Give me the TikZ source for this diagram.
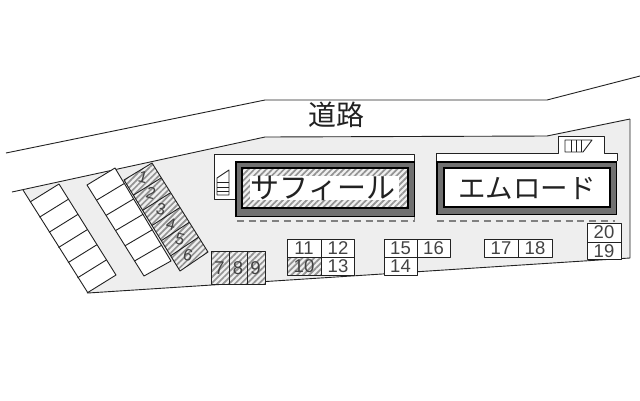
\documentclass[tikz,border=0pt]{standalone}
\usepackage{fontspec}
\setmainfont{Liberation Sans}
\newfontfamily\jpfont{Noto Sans CJK JP}
\usetikzlibrary{patterns.meta}
\definecolor{sitegray}{HTML}{EEEEEE}
\definecolor{ink}{HTML}{222222}
\definecolor{band}{HTML}{707070}
\tikzset{
  x=1pt,y=-1pt,
  line/.style={draw=ink,line width=0.9pt,line join=round},
  hatch/.style={pattern={Lines[angle=45,distance=4.2pt,line width=1.7pt]},pattern color=gray!85},
  white cell/.style={line,fill=white},
  num/.style={font=\fontsize{18.5}{18.5}\selectfont,text=ink!85,inner sep=0pt},
  slantnum/.style={font=\fontsize{16.5}{16.5}\selectfont,text=ink!85,inner sep=0pt,rotate=-15},
  bigtext/.style={font=\jpfont\fontsize{29}{29}\selectfont,text=ink,inner sep=0pt},
  dashline/.style={draw=gray,line width=2pt,dash pattern=on 7pt off 4.7pt},
}
\begin{document}
\begin{tikzpicture}
\useasboundingbox (0,0) rectangle (640,400);
\fill[white] (0,0) rectangle (640,400);
% site
\fill[sitegray] (23,190) -- (265,137) -- (547,136) -- (630,119) -- (630,258) -- (88,293) -- cycle;
\draw[line] (6,153) -- (265,100) -- (547,100) -- (640,76);
% left parking
\fill[white] (59,184) -- (116,275) -- (87,293) -- (30,202) -- cycle;
\draw[line] (59,184) -- (116,275) -- (87,293);
\foreach \i in {0,...,5}{
  \draw[line] ({59+\i*9.5},{184+\i*15.17}) -- ({30+\i*9.5},{202+\i*15.17});
}
\draw[line] (12,192) -- (265,137) -- (547,136) -- (630,119);
\draw[line] (630,119) -- (630,258) -- (88,293) -- (23,190);
% middle parking
\fill[white] (115,168) -- (171,261) -- (144,276) -- (87,185) -- cycle;
\draw[line] (115,168) -- (171,261) -- (144,276) -- (87,185) -- cycle;
\foreach \i in {1,...,5}{
  \draw[line] ({115+\i*9.4},{168+\i*15.4}) -- ({87+\i*9.5},{185+\i*15.2});
}
% hatched parking 1-6
\fill[white!88!gray] (124,180) -- (152,163) -- (208,252) -- (180,271) -- cycle;
\path[hatch] (124,180) -- (152,163) -- (208,252) -- (180,271) -- cycle;
\draw[line] (124,180) -- (152,163) -- (208,252) -- (180,271) -- cycle;
\foreach \i in {1,...,5}{
  \draw[line] ({152+\i*9.33},{163+\i*14.83}) -- ({124+\i*9.33},{180+\i*15.17});
}
\node[slantnum] (p1) at (143,177) {1};
\node[slantnum] (p2) at (151,193) {2};
\node[slantnum] (p3) at (161,209) {3};
\node[slantnum] (p4) at (171,224) {4};
\node[slantnum] (p5) at (180,239) {5};
\node[slantnum] (p6) at (188,255) {6};
% 7 8 9
\fill[white!88!gray] (211,251) rectangle (265,284);
\path[hatch] (211,251) rectangle (265,284);
\draw[line] (211,251) rectangle (265,284) (229,251) -- (229,284) (247,251) -- (247,284);
\node[num] (p7) at (219.5,268) {7};
\node[num] (p8) at (238,268) {8};
\node[num] (p9) at (255.5,268) {9};
% 10-13
\fill[white] (287,239) rectangle (354,275);
\fill[white!88!gray] (287,257) rectangle (321,275);
\path[hatch] (287,257) rectangle (321,275);
\draw[line] (287,239) rectangle (354,275) (321,239) -- (321,275) (287,257) -- (354,257);
\node[num] (p11) at (304,248) {11};
\node[num] (p12) at (338,248) {12};
\node[num] (p10) at (304,266) {10};
\node[num] (p13) at (338,266) {13};
% 14-16
\fill[white] (384,239) -- (450,239) -- (450,257) -- (417,257) -- (417,275) -- (384,275) -- cycle;
\draw[line] (384,239) -- (450,239) -- (450,257) -- (417,257) -- (417,275) -- (384,275) -- cycle;
\draw[line] (417,239) -- (417,257) -- (384,257);
\node[num] (p15) at (400.5,248) {15};
\node[num] (p16) at (433.5,248) {16};
\node[num] (p14) at (400.5,266) {14};
% 17-18
\draw[white cell] (484,239) rectangle (552,257);
\draw[line] (518,239) -- (518,257);
\node[num] (p17) at (501,248) {17};
\node[num] (p18) at (535,248) {18};
% 19-20
\draw[white cell] (587,223) rectangle (621,259);
\draw[line] (587,242) -- (621,242);
\node[num] (p20) at (604,232.5) {20};
\node[num] (p19) at (604,251) {19};
% building 1
\draw[line,fill=white] (235,199) -- (214,199) -- (214,154) -- (414,154) -- (414,161);
\draw[line,fill=white] (217,195) -- (217,178) -- (229,170) -- (229,195) -- cycle;
\foreach \y in {182,187,191}{\draw[line,line width=0.7pt] (217,\y) -- (229,\y);}
\draw[draw=black,line width=1.6pt,fill=band] (236,162) rectangle (414.5,216.5);
\fill[white!88!gray] (242,168) rectangle (408,208);
\path[hatch] (242,168) rectangle (408,208);
\fill[white] (250,176) rectangle (399,200);
\draw[draw=black,line width=1.6pt] (242,168) rectangle (408,208);
\node[bigtext] (saf) at (323,188) {サフィール};
\draw[dashline] (237,221) -- (413,221);
\draw[draw=gray,line width=1pt] (414,217) -- (414,222);
% building 2
\draw[line,fill=white] (436,161) -- (436,153) -- (558,153) -- (558,136) -- (604,136) -- (604,153) -- (617,153) -- (617,161);
\draw[line] (565,140) -- (592,140) -- (583,152) -- (565,152) -- cycle;
\foreach \x in {571,576,581}{\draw[line,line width=0.8pt] (\x,140) -- (\x,152);}
\draw[draw=black,line width=1.6pt,fill=band] (437,162) rectangle (616.5,214.5);
\draw[draw=black,line width=1.6pt,fill=white] (444,168) rectangle (610,207);
\node[bigtext,font=\jpfont\fontsize{27.5}{27.5}\selectfont] (emu) at (527,188.5) {エムロード};
\draw[dashline] (437,221) -- (615,221);
% road
\node[bigtext,font=\jpfont\fontsize{28}{28}\selectfont] (road) at (336,115) {道路};
\end{tikzpicture}
\end{document}
